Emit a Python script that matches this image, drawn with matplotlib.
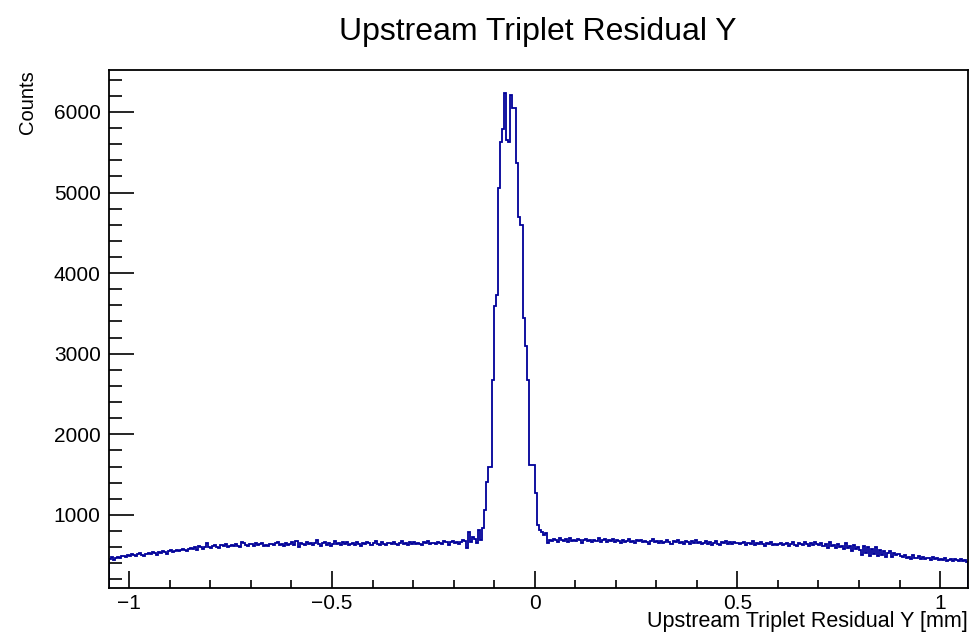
import numpy as np
import matplotlib.pyplot as plt
from matplotlib.ticker import MultipleLocator

plt.rcParams['font.family'] = ['Liberation Sans', 'DejaVu Sans']

# Histogram binning
x_min = -1.05
bin_width = 0.005

# Counts per bin, left flat part (-1.050 ... -0.140)
left_counts = [
    448, 472, 436, 465, 481, 470, 495, 488, 478, 502, 491, 515, 497, 486, 509, 521, 503, 492, 517, 528,
    511, 534, 522, 507, 541, 529, 548, 536, 519, 552, 563, 541, 557, 570, 548, 561, 583, 566, 552, 578,
    590, 571, 602, 560, 612, 596, 579, 604, 655, 598, 587, 615, 630, 603, 594, 622, 609, 641, 598, 616,
    628, 611, 643, 619, 604, 668, 652, 626, 615, 641, 633, 608, 646, 622, 639, 655, 618, 630, 612, 645,
    636, 621, 648, 659, 627, 641, 613, 650, 632, 644, 668, 622, 675, 598, 652, 640, 626, 661, 634, 647,
    629, 655, 690, 638, 620, 646, 663, 631, 651, 617, 642, 670, 636, 649, 626, 658, 641, 667, 632, 645,
    653, 628, 661, 644, 619, 656, 637, 665, 648, 626, 652, 674, 639, 631, 660, 643, 622, 657, 646, 633,
    662, 641, 629, 655, 670, 638, 652, 624, 659, 645, 668, 633, 650, 641, 627, 661, 654, 676, 639, 648,
    657, 636, 669, 651, 642, 673, 658, 630, 662, 681, 649, 667, 640, 659, 688, 671, 590, 793, 668, 720,
    700, 655, 814,
]

# Counts per bin, peak (-0.135 ... 0.005)
peak_counts = [
    690, 838, 1062, 1414, 1600, 1600, 2677, 3587, 3732, 5057,
    5629, 5782, 6230, 5650, 5624, 6204, 6051, 6051, 5368, 4700,
    4602, 3447, 3100, 2677, 1621, 1621, 1621, 1273, 876,
]

# Counts per bin, right flat part (0.010 ... 1.065)
right_counts = [
    812, 790, 745, 770, 652, 690, 672, 701, 684, 663, 709, 688, 675, 697, 668, 714, 680, 692,
    671, 699, 684, 657, 690, 705, 673, 688, 662, 694, 679, 716, 668, 685, 701, 659, 690, 676, 698, 664,
    687, 672, 655, 694, 668, 681, 700, 663, 677, 650, 689, 671, 693, 658, 682, 667, 645, 679, 696, 661,
    674, 655, 682, 648, 667, 690, 659, 641, 673, 662, 686, 651, 669, 644, 678, 660, 637, 671, 655, 683,
    648, 666, 639, 657, 675, 643, 661, 632, 654, 670, 645, 628, 662, 651, 680, 641, 658, 636, 668, 649,
    657, 633, 646, 664, 628, 651, 639, 673, 622, 648, 635, 659, 644, 617, 652, 638, 666, 631, 645, 629,
    642, 656, 625, 638, 649, 617, 644, 661, 630, 612, 653, 637, 624, 667, 640, 619, 646, 628, 658, 633,
    621, 648, 609, 637, 594, 662, 615, 629, 588, 640, 603, 617, 575, 655, 592, 610, 548, 628, 581, 603,
    566, 498, 612, 521, 597, 486, 580, 512, 603, 492, 569, 507, 548, 483, 531, 555, 478, 530, 499, 517,
    492, 476, 505, 469, 483, 458, 497, 471, 462, 488, 455, 479, 448, 470, 463, 440, 474, 452, 466, 445,
    451, 437, 462, 428, 445, 456, 431, 449, 439, 425, 452, 434, 443, 420,
]

counts = np.array(left_counts + peak_counts + right_counts)
edges = x_min + bin_width * np.arange(len(counts) + 1)

fig = plt.figure(figsize=(9.69, 6.33), dpi=100)
ax = fig.add_axes([0.1125, 0.0711, 0.8865, 0.8183])

ax.stairs(counts, edges, color='#000099', lw=1.3)

ax.set_xlim(-1.05, 1.069)
ax.set_ylim(93, 6520)

ax.xaxis.set_minor_locator(MultipleLocator(0.1))
ax.yaxis.set_minor_locator(MultipleLocator(200))
ax.set_yticks([1000, 2000, 3000, 4000, 5000, 6000])
ax.set_xticks([-1, -0.5, 0, 0.5, 1])
ax.set_xticklabels(['\u22121', '\u22120.5', '0', '0.5', '1'])

ax.tick_params(axis='both', which='both', direction='in', labelsize=15, width=1.2)
ax.tick_params(axis='x', which='major', length=12, pad=4)
ax.tick_params(axis='x', which='minor', length=6)
ax.tick_params(axis='y', which='major', length=18, pad=6)
ax.tick_params(axis='y', which='minor', length=9)
for s in ax.spines.values():
    s.set_linewidth(1.3)

ax.set_xlabel('Upstream Triplet Residual Y [mm]', fontsize=15.5, loc='right', labelpad=-1)
ax.set_ylabel('Counts', fontsize=14.5, loc='top', labelpad=12)

fig.text(0.555, 0.949, 'Upstream Triplet Residual Y', ha='center', va='center', fontsize=23)

fig.savefig('out.png', dpi=100)
